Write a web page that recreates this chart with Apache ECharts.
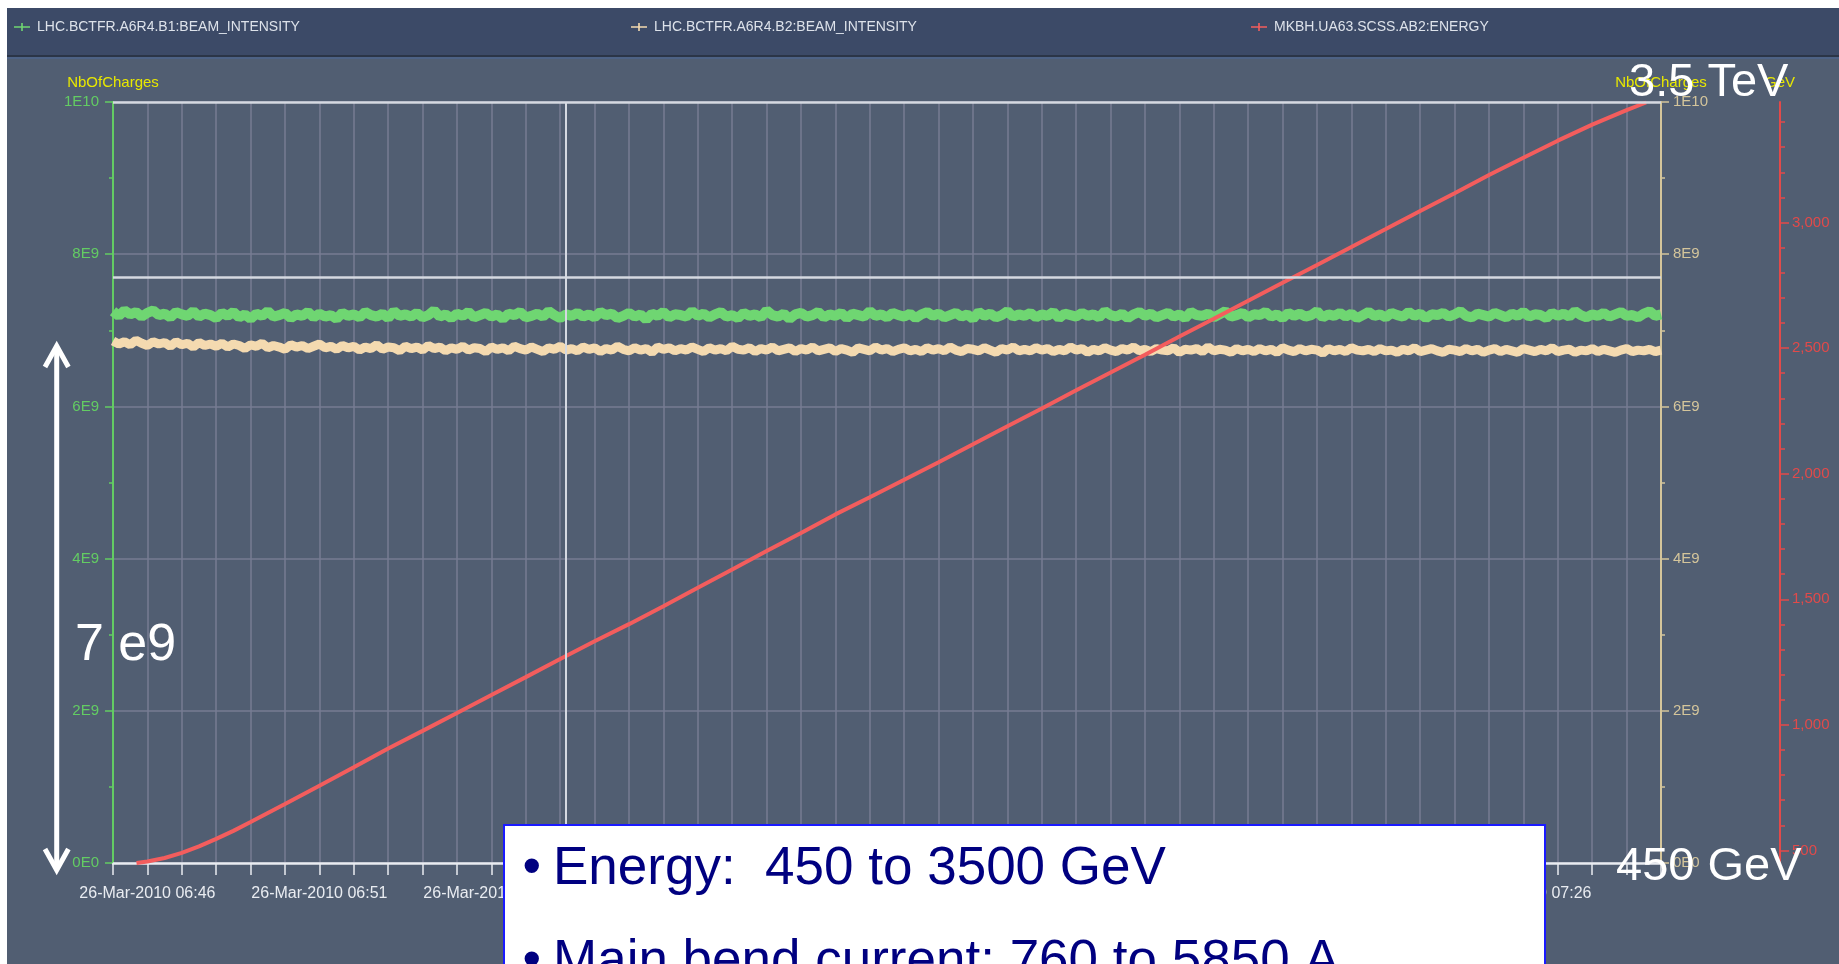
<!DOCTYPE html>
<html>
<head>
<meta charset="utf-8">
<title>LHC ramp - beam intensity and energy</title>
<script src="https://cdn.jsdelivr.net/npm/echarts@6/dist/echarts.min.js"></script>
<style>
  html, body { margin: 0; padding: 0; background: #ffffff; }
  #chart { width: 1839px; height: 964px; }
</style>
</head>
<body>
<div id="chart"></div>
<script>
// ---- Logged signals ------------------------------------------------------
const seriesNames = [
  'LHC.BCTFR.A6R4.B1:BEAM_INTENSITY',
  'LHC.BCTFR.A6R4.B2:BEAM_INTENSITY',
  'MKBH.UA63.SCSS.AB2:ENERGY'
];

// Logging window, 26-Mar-2010 (clock times)
const windowStart = '06:45:00';
const windowEnd = '07:30:00';
const intensityStepSeconds = 10;   // intensity samples every 10 s from windowStart

// Beam 1 intensity, in units of 1E9 charges
const b1Intensity = [
  7.25, 7.19, 7.26, 7.21, 7.24, 7.18, 7.23, 7.26, 7.20, 7.22, 7.17, 7.24, 7.21, 7.19, 7.25, 7.18, 7.22, 7.20, 7.16, 7.23,
  7.19, 7.24, 7.17, 7.21, 7.15, 7.22, 7.19, 7.25, 7.18, 7.20, 7.23, 7.16, 7.21, 7.19, 7.24, 7.17, 7.22, 7.18, 7.20, 7.15,
  7.23, 7.19, 7.21, 7.17, 7.24, 7.20, 7.18, 7.22, 7.16, 7.25, 7.19, 7.21, 7.18, 7.23, 7.17, 7.20, 7.26, 7.18, 7.21, 7.16,
  7.22, 7.19, 7.24, 7.17, 7.20, 7.23, 7.18, 7.21, 7.15, 7.22, 7.20, 7.24, 7.17, 7.19, 7.22, 7.18, 7.25, 7.20, 7.16, 7.21,
  7.19, 7.23, 7.18, 7.21, 7.17, 7.24, 7.20, 7.22, 7.16, 7.19, 7.23, 7.18, 7.21, 7.14, 7.22, 7.19, 7.24, 7.17, 7.21, 7.20,
  7.18, 7.25, 7.19, 7.22, 7.17, 7.21, 7.24, 7.18, 7.20, 7.16, 7.23, 7.19, 7.21, 7.17, 7.26, 7.20, 7.18, 7.22, 7.15, 7.21,
  7.23, 7.18, 7.20, 7.24, 7.17, 7.21, 7.19, 7.23, 7.16, 7.22, 7.20, 7.18, 7.25, 7.19, 7.21, 7.17, 7.23, 7.20, 7.18, 7.22,
  7.16, 7.21, 7.24, 7.19, 7.22, 7.17, 7.20, 7.23, 7.18, 7.21, 7.15, 7.24, 7.19, 7.22, 7.17, 7.20, 7.25, 7.18, 7.21, 7.19,
  7.23, 7.17, 7.21, 7.19, 7.24, 7.16, 7.22, 7.20, 7.18, 7.23, 7.19, 7.21, 7.17, 7.25, 7.20, 7.18, 7.22, 7.16, 7.21, 7.24,
  7.19, 7.22, 7.17, 7.20, 7.23, 7.18, 7.21, 7.16, 7.24, 7.20, 7.19, 7.22, 7.17, 7.21, 7.25, 7.18, 7.20, 7.23, 7.17, 7.21,
  7.20, 7.24, 7.18, 7.21, 7.16, 7.23, 7.19, 7.22, 7.18, 7.20, 7.25, 7.17, 7.21, 7.19, 7.23, 7.18, 7.22, 7.16, 7.20, 7.24,
  7.19, 7.21, 7.17, 7.23, 7.20, 7.18, 7.24, 7.19, 7.22, 7.16, 7.21, 7.20, 7.23, 7.18, 7.21, 7.25, 7.19, 7.17, 7.22, 7.20,
  7.18, 7.23, 7.20, 7.17, 7.22, 7.19, 7.24, 7.18, 7.21, 7.20, 7.16, 7.23, 7.19, 7.22, 7.18, 7.25, 7.20, 7.17, 7.21, 7.19,
  7.23, 7.18, 7.21, 7.24, 7.19, 7.20, 7.17, 7.22, 7.25, 7.19, 7.21
];

// Beam 2 intensity, in units of 1E9 charges
const b2Intensity = [
  6.86, 6.82, 6.85, 6.81, 6.87, 6.83, 6.80, 6.85, 6.82, 6.84, 6.79, 6.85, 6.81, 6.83, 6.78, 6.84, 6.80, 6.82, 6.79, 6.83,
  6.78, 6.82, 6.80, 6.76, 6.81, 6.79, 6.83, 6.77, 6.80, 6.78, 6.75, 6.81, 6.78, 6.80, 6.76, 6.79, 6.82, 6.77, 6.79, 6.75,
  6.80, 6.77, 6.79, 6.74, 6.78, 6.76, 6.81, 6.75, 6.78, 6.77, 6.73, 6.79, 6.76, 6.78, 6.74, 6.80, 6.76, 6.78, 6.73, 6.77,
  6.75, 6.79, 6.74, 6.77, 6.76, 6.72, 6.78, 6.75, 6.77, 6.73, 6.79, 6.76, 6.74, 6.78, 6.75, 6.72, 6.77, 6.75, 6.79, 6.74,
  6.76, 6.73, 6.78, 6.75, 6.77, 6.72, 6.76, 6.74, 6.79, 6.75, 6.73, 6.77, 6.74, 6.76, 6.71, 6.78, 6.75, 6.77, 6.73, 6.76,
  6.74, 6.78, 6.75, 6.72, 6.77, 6.74, 6.76, 6.73, 6.79, 6.75, 6.74, 6.77, 6.72, 6.76, 6.74, 6.78, 6.73, 6.75, 6.77, 6.72,
  6.76, 6.74, 6.78, 6.73, 6.75, 6.77, 6.72, 6.76, 6.74, 6.71, 6.77, 6.75, 6.73, 6.78, 6.74, 6.76, 6.72, 6.75, 6.77, 6.73,
  6.75, 6.72, 6.77, 6.74, 6.76, 6.73, 6.78, 6.74, 6.72, 6.76, 6.75, 6.73, 6.77, 6.74, 6.71, 6.76, 6.74, 6.78, 6.73, 6.75,
  6.73, 6.77, 6.74, 6.76, 6.72, 6.75, 6.73, 6.78, 6.74, 6.76, 6.71, 6.75, 6.73, 6.77, 6.74, 6.72, 6.76, 6.74, 6.78, 6.73,
  6.75, 6.72, 6.76, 6.74, 6.73, 6.77, 6.71, 6.75, 6.74, 6.76, 6.72, 6.78, 6.73, 6.75, 6.74, 6.71, 6.76, 6.73, 6.75, 6.72,
  6.76, 6.73, 6.75, 6.71, 6.77, 6.74, 6.72, 6.76, 6.73, 6.75, 6.74, 6.70, 6.76, 6.73, 6.75, 6.72, 6.77, 6.74, 6.73, 6.75,
  6.72, 6.76, 6.73, 6.74, 6.71, 6.75, 6.73, 6.77, 6.72, 6.74, 6.76, 6.73, 6.71, 6.75, 6.74, 6.72, 6.76, 6.73, 6.75, 6.71,
  6.74, 6.76, 6.72, 6.75, 6.73, 6.71, 6.76, 6.74, 6.72, 6.75, 6.73, 6.77, 6.72, 6.74, 6.75, 6.71, 6.74, 6.73, 6.76, 6.72,
  6.75, 6.73, 6.71, 6.74, 6.76, 6.72, 6.74, 6.73, 6.75, 6.72, 6.74
];

// Beam energy during the ramp
const energyTimes = [
  '06:45:41', '06:46:00', '06:46:30', '06:47:00', '06:47:30', '06:48:00', '06:48:30', '06:49:00',
  '06:49:30', '06:50:00', '06:51:00', '06:52:00', '06:53:00', '06:54:00', '06:55:00', '06:56:00',
  '06:57:00', '06:58:00', '06:59:00', '07:00:00', '07:01:00', '07:02:00', '07:03:00', '07:04:00',
  '07:05:00', '07:06:00', '07:07:00', '07:08:00', '07:09:00', '07:10:00', '07:11:00', '07:12:00',
  '07:13:00', '07:14:00', '07:15:00', '07:16:00', '07:17:00', '07:18:00', '07:19:00', '07:20:00',
  '07:21:00', '07:22:00', '07:23:00', '07:24:00', '07:25:00', '07:26:00', '07:27:00', '07:28:00',
  '07:29:00', '07:29:34'
];
const energyGeV = [
  450, 456, 470, 490, 516, 546, 578, 613,
  649, 685, 758, 831, 906, 976, 1047, 1119,
  1190, 1262, 1333, 1401, 1472, 1546, 1619, 1692,
  1764, 1838, 1906, 1976, 2046, 2117, 2189, 2260,
  2332, 2403, 2474, 2546, 2617, 2689, 2760, 2831,
  2903, 2974, 3046, 3117, 3189, 3258, 3326, 3390,
  3448, 3478
];

// Cursor and reference level
const cursorTime = '06:58:10';
const referenceIntensity = 7.7;   // 1E9 charges

// Tick labels
const intensityTickValues = [0, 2, 4, 6, 8, 10];
const intensityTickLabels = ['0E0', '2E9', '4E9', '6E9', '8E9', '1E10'];
const energyTickValues = [500, 1000, 1500, 2000, 2500, 3000];
const energyTickLabels = ['500', '1,000', '1,500', '2,000', '2,500', '3,000'];
const timeTickLabels = ['06:46', '06:51', '06:56', '07:01', '07:06', '07:11', '07:16', '07:21', '07:26'];
const dateLabel = '26-Mar-2010';

// ---- Helpers ---------------------------------------------------------------
function toMs(hms) {
  const p = hms.split(':').map(Number);
  return Date.UTC(2010, 2, 26, p[0], p[1], p[2] || 0);
}
function pad(n) { return (n < 10 ? '0' : '') + n; }

const t0 = toMs(windowStart);
const t1 = toMs(windowEnd);

const b1Data = b1Intensity.map((v, i) => [t0 + i * intensityStepSeconds * 1000, v]);
const b2Data = b2Intensity.map((v, i) => [t0 + i * intensityStepSeconds * 1000, v]);
const energyData = energyTimes.map((t, i) => [toMs(t), energyGeV[i]]);

const energyMinorTicks = [];
for (let v = 500; v <= 3400; v += 100) energyMinorTicks.push(v);

// ---- Styling -------------------------------------------------------------
const NARROW = "'Liberation Sans Narrow', 'Arial Narrow', 'Liberation Sans', sans-serif";
const SANS = "'Liberation Sans', Arial, Helvetica, sans-serif";

const C = {
  plotBg: '#515e72',
  header: '#3c4a67',
  grid: '#777c93',
  white: '#e9ecf1',
  refLine: '#d5d9e1',
  green: '#6fd672',
  greenAxis: '#63cc63',
  beige: '#f4dab0',
  tanAxis: '#d4c59b',
  red: '#f35d5d',
  redAxis: '#e24a4a',
  yellow: '#e8e800',
  navy: '#000080',
  boxBlue: '#1a1aff'
};

const chart = echarts.init(document.getElementById('chart'), null, { renderer: 'canvas' });

function intensityLabel(v) {
  const i = intensityTickValues.indexOf(v);
  return i >= 0 ? intensityTickLabels[i] : '';
}

const option = {
  animation: false,
  backgroundColor: C.plotBg,
  legend: seriesNames.map((name, i) => ({
    data: [{ name: name }],
    left: [14, 631, 1251][i],
    top: 20,
    padding: 0,
    itemWidth: 20,
    itemHeight: 8,
    icon: 'path://M0,4H9V0H11V4H20V6H11V10H9V6H0Z',
    selectedMode: false,
    textStyle: { color: '#dde2ea', fontSize: 14, fontFamily: NARROW }
  })),
  grid: {
    left: 113, right: 178, top: 102, bottom: 101,
    outerBoundsMode: 'none',
    containLabel: false
  },
  xAxis: {
    type: 'value',
    min: t0,
    max: t1,
    interval: 60000,
    axisLine: { show: true, lineStyle: { color: C.white, width: 2.5 } },
    axisTick: { show: true, length: 12, lineStyle: { color: C.white, width: 1.5 } },
    splitLine: { show: true, lineStyle: { color: C.grid, width: 1.5 } },
    axisLabel: {
      color: C.white,
      fontFamily: NARROW,
      fontSize: 16,
      margin: 23,
      showMinLabel: true,
      showMaxLabel: true,
      formatter: function (v) {
        const d = new Date(v);
        const hm = pad(d.getUTCHours()) + ':' + pad(d.getUTCMinutes());
        return timeTickLabels.indexOf(hm) >= 0 ? dateLabel + ' ' + hm : '';
      }
    }
  },
  yAxis: [
    {
      type: 'value', position: 'left', min: 0, max: 10, interval: 2,
      name: 'NbOfCharges', nameLocation: 'end', nameGap: 12,
      nameTextStyle: { color: C.yellow, fontFamily: NARROW, fontSize: 15 },
      axisLine: { show: true, lineStyle: { color: C.greenAxis, width: 2 } },
      axisTick: { show: true, length: 8, lineStyle: { color: C.greenAxis, width: 1.5 } },
      minorTick: { show: true, splitNumber: 2, length: 4, lineStyle: { color: C.greenAxis, width: 1.5 } },
      splitLine: { show: true, lineStyle: { color: C.grid, width: 1.5 } },
      axisLabel: { color: C.greenAxis, fontFamily: NARROW, fontSize: 15, margin: 14, formatter: intensityLabel }
    },
    {
      type: 'value', position: 'right', min: 0, max: 10, interval: 2,
      name: 'NbOfCharges', nameLocation: 'end', nameGap: 12,
      nameTextStyle: { color: C.yellow, fontFamily: NARROW, fontSize: 15 },
      axisLine: { show: true, lineStyle: { color: C.tanAxis, width: 2 } },
      axisTick: { show: true, length: 8, lineStyle: { color: C.tanAxis, width: 1.5 } },
      minorTick: { show: true, splitNumber: 2, length: 4, lineStyle: { color: C.tanAxis, width: 1.5 } },
      splitLine: { show: false },
      axisLabel: { color: C.tanAxis, fontFamily: NARROW, fontSize: 15, margin: 12, formatter: intensityLabel }
    },
    {
      type: 'value', position: 'right', offset: 119, min: 450, max: 3480,
      name: 'GeV', nameLocation: 'end', nameGap: 12,
      nameTextStyle: { color: C.yellow, fontFamily: NARROW, fontSize: 15 },
      axisLine: { show: true, lineStyle: { color: C.redAxis, width: 2 } },
      axisTick: { show: true, length: 9, customValues: energyTickValues, lineStyle: { color: C.redAxis, width: 1.5 } },
      splitLine: { show: false },
      axisLabel: {
        color: C.redAxis, fontFamily: NARROW, fontSize: 15, margin: 12,
        customValues: energyTickValues,
        formatter: function (v) {
          const i = energyTickValues.indexOf(v);
          return i >= 0 ? energyTickLabels[i] : '';
        }
      }
    },
    {
      // minor ticks of the energy scale
      type: 'value', position: 'right', offset: 119, min: 450, max: 3480,
      axisLine: { show: false },
      axisTick: { show: true, length: 5, customValues: energyMinorTicks, lineStyle: { color: C.redAxis, width: 1.5 } },
      axisLabel: { show: false },
      splitLine: { show: false }
    }
  ],
  series: [
    {
      name: seriesNames[0], type: 'line', xAxisIndex: 0, yAxisIndex: 0,
      data: b1Data, showSymbol: false, symbol: 'none', z: 3,
      itemStyle: { color: C.green },
      lineStyle: { color: C.green, width: 10 },
      markLine: {
        silent: true, symbol: 'none', label: { show: false },
        lineStyle: { color: C.refLine, width: 2.5, type: 'solid' },
        data: [
          { yAxis: 10 },
          { yAxis: referenceIntensity },
          { xAxis: toMs(cursorTime), lineStyle: { color: C.refLine, width: 2 } }
        ]
      }
    },
    {
      name: seriesNames[1], type: 'line', xAxisIndex: 0, yAxisIndex: 1,
      data: b2Data, showSymbol: false, symbol: 'none', z: 3,
      itemStyle: { color: C.beige },
      lineStyle: { color: C.beige, width: 9 }
    },
    {
      name: seriesNames[2], type: 'line', xAxisIndex: 0, yAxisIndex: 2,
      data: energyData, showSymbol: false, symbol: 'none', z: 4,
      itemStyle: { color: C.red },
      lineStyle: { color: C.red, width: 4 }
    }
  ],
  graphic: [
    // page frame and header strip
    { type: 'rect', z: 0, silent: true, shape: { x: 0, y: 0, width: 1839, height: 8 }, style: { fill: '#ffffff' } },
    { type: 'rect', z: 0, silent: true, shape: { x: 0, y: 0, width: 7, height: 964 }, style: { fill: '#ffffff' } },
    { type: 'rect', z: 0, silent: true, shape: { x: 7, y: 8, width: 1832, height: 47 }, style: { fill: C.header } },
    { type: 'rect', z: 0, silent: true, shape: { x: 7, y: 55, width: 1832, height: 2 }, style: { fill: '#2b3547' } },
    { type: 'rect', z: 0, silent: true, shape: { x: 7, y: 57, width: 1832, height: 2 }, style: { fill: '#4d6285' } },

    // double arrow spanning the intensity range
    { type: 'line', z: 100, silent: true, shape: { x1: 56.7, y1: 347, x2: 56.7, y2: 868 }, style: { stroke: '#ffffff', lineWidth: 5 } },
    { type: 'polyline', z: 100, silent: true, shape: { points: [[45, 367], [56.7, 346], [68.4, 367]] }, style: { stroke: '#ffffff', lineWidth: 5, fill: null } },
    { type: 'polyline', z: 100, silent: true, shape: { points: [[45, 849], [56.7, 870], [68.4, 849]] }, style: { stroke: '#ffffff', lineWidth: 5, fill: null } },

    // annotations
    { type: 'text', z: 100, silent: true, style: { x: 75, y: 646, text: '7 e9', fill: '#ffffff', font: '52px ' + SANS, verticalAlign: 'middle' } },
    { type: 'text', z: 100, silent: true, style: { x: 1629, y: 83, text: '3.5 TeV', fill: '#ffffff', font: '47px ' + SANS, verticalAlign: 'middle' } },
    { type: 'text', z: 100, silent: true, style: { x: 1616, y: 867, text: '450 GeV', fill: '#ffffff', font: '47px ' + SANS, verticalAlign: 'middle' } },

    // parameter box
    { type: 'rect', z: 100, silent: true, shape: { x: 504, y: 825, width: 1041, height: 200 }, style: { fill: '#ffffff', stroke: C.boxBlue, lineWidth: 2 } },
    { type: 'text', z: 101, silent: true, style: { x: 531.7, y: 869, text: '\u2022', fill: C.navy, font: '53px ' + SANS, align: 'center', verticalAlign: 'middle' } },
    { type: 'text', z: 101, silent: true, style: { x: 553, y: 869, text: 'Energy:  450 to 3500 GeV', fill: C.navy, font: '53px ' + SANS, verticalAlign: 'middle' } },
    { type: 'text', z: 101, silent: true, style: { x: 531.7, y: 962, text: '\u2022', fill: C.navy, font: '53px ' + SANS, align: 'center', verticalAlign: 'middle' } },
    { type: 'text', z: 101, silent: true, style: { x: 553, y: 962, text: 'Main bend current: 760 to 5850 A', fill: C.navy, font: '53px ' + SANS, verticalAlign: 'middle' } }
  ]
};

chart.setOption(option);
</script>
</body>
</html>
